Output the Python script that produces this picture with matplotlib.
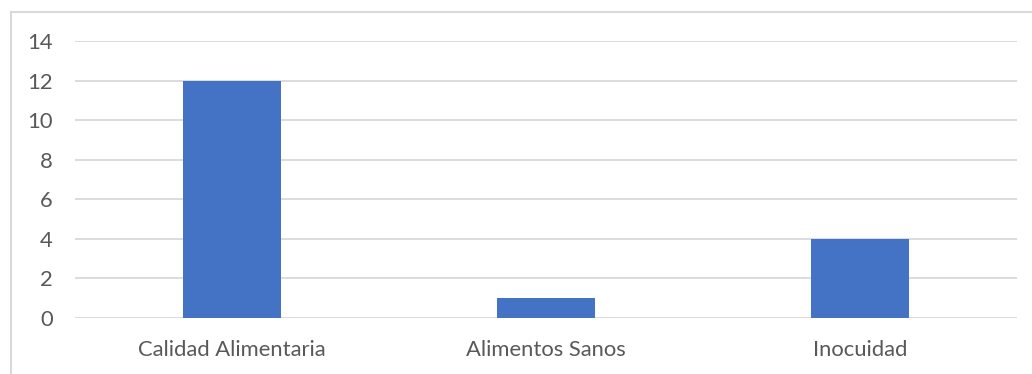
import matplotlib.pyplot as plt
from matplotlib.lines import Line2D

categories = ['Calidad Alimentaria', 'Alimentos Sanos', 'Inocuidad']
values = [12, 1, 4]
yticks = [0, 2, 4, 6, 8, 10, 12, 14]

plt.rcParams['font.family'] = ['Lato', 'DejaVu Sans']

W, H = 1032, 374
fig = plt.figure(figsize=(W / 100, H / 100), dpi=100)
ax = fig.add_axes([75 / W, 56 / H, 942 / W, 277 / H])

x = range(len(categories))
ax.bar(x, values, width=0.31, color='#4472C4', zorder=3)

ax.set_xlim(-0.5, len(categories) - 0.5)
ax.set_ylim(0, 14)
ax.set_yticks(yticks)
ax.set_xticks(list(x))
ax.set_xticklabels(categories)
ax.grid(axis='y', color='#d9d9d9', linewidth=1.3, zorder=0)
ax.tick_params(length=0, labelsize=15.8, colors='#595959')
ax.tick_params(axis='y', pad=16)
ax.tick_params(axis='x', pad=16)
for s in ax.spines.values():
    s.set_visible(False)

# outer chart frame (left and top edges)
fig.add_artist(Line2D([11 / W, 11 / W], [0, 1 - 12 / H], color='#d9d9d9', lw=1.5))
fig.add_artist(Line2D([11 / W, 1], [1 - 12 / H, 1 - 12 / H], color='#d9d9d9', lw=1.5))

fig.savefig('out.png', dpi=100)
